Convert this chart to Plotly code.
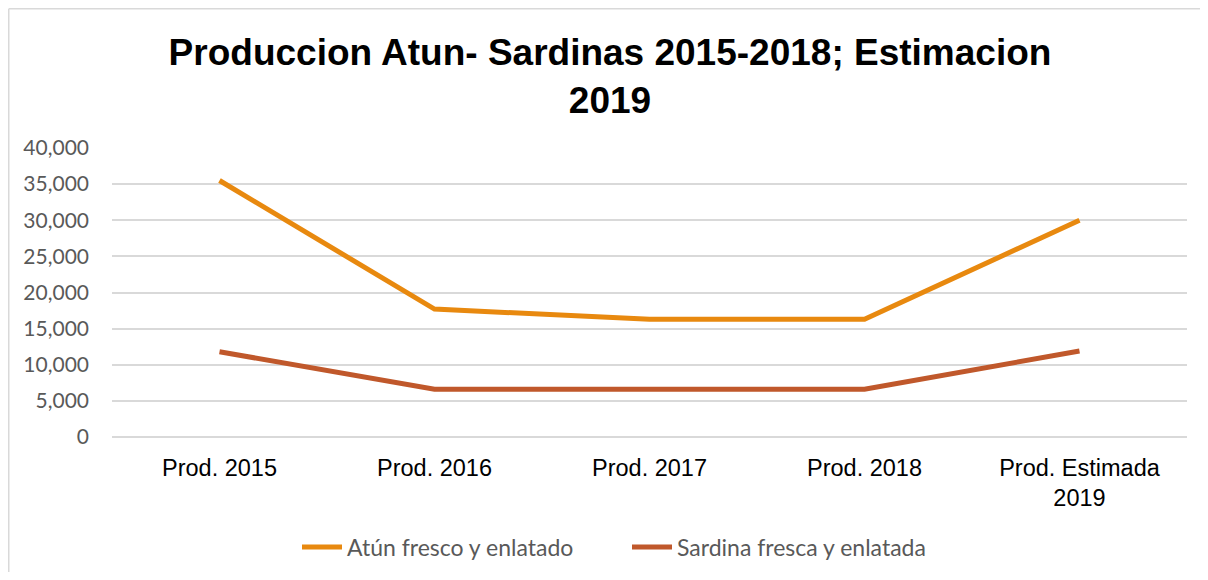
import plotly.graph_objects as go

categories = ["Prod. 2015", "Prod. 2016", "Prod. 2017", "Prod. 2018", "Prod. Estimada<br>2019"]
atun = [35500, 17700, 16300, 16300, 30000]
sardina = [11800, 6600, 6600, 6600, 11900]
y_ticks = [0, 5000, 10000, 15000, 20000, 25000, 30000, 35000, 40000]
y_tick_labels = ["0", "5,000", "10,000", "15,000", "20,000", "25,000", "30,000", "35,000", "40,000"]

W, H = 1192, 564
ML, MR, MT, MB = 104, 13, 140, 135
PW, PH = W - ML - MR, H - MT - MB

fig = go.Figure()
fig.add_trace(go.Scatter(x=categories, y=atun, mode="lines", name="Atún fresco y enlatado",
                         line=dict(color="#E8890F", width=5)))
fig.add_trace(go.Scatter(x=categories, y=sardina, mode="lines", name="Sardina fresca y enlatada",
                         line=dict(color="#C0582B", width=5)))

fig.update_layout(
    width=W, height=H,
    margin=dict(l=ML, r=MR, t=MT, b=MB, autoexpand=False),
    paper_bgcolor="white", plot_bgcolor="white",
    title=dict(text="<b>Produccion Atun- Sardinas 2015-2018; Estimacion<br>2019</b>",
               x=602 / W, xanchor="center",
               y=1 - 57 / H, yanchor="top", yref="container",
               font=dict(family="Liberation Sans, Arial", size=37, color="black")),
    xaxis=dict(type="category", range=[-0.5, 4.5], showgrid=False, showline=False,
               ticks="", ticklabelstandoff=14, automargin=False,
               tickfont=dict(family="Liberation Sans, Arial", size=23.5, color="black")),
    yaxis=dict(range=[0, 40000], tickvals=y_ticks, ticktext=y_tick_labels,
               showgrid=True, gridcolor="#D9D9D9", gridwidth=1.5,
               zeroline=True, zerolinecolor="#D9D9D9", zerolinewidth=1.5,
               showline=False, ticks="", ticklabelstandoff=22, automargin=False,
               tickfont=dict(family="Lato, Carlito, Calibri", size=21, color="#595959")),
    legend=dict(orientation="h", x=(305 - 16 - ML) / PW, xanchor="left",
                y=-(539 - MT - PH) / PH, yanchor="middle",
                font=dict(family="Lato, Carlito, Calibri", size=23, color="#595959"),
                itemwidth=40, tracegroupgap=0, entrywidth=275, entrywidthmode="pixels"),
    showlegend=True,
)

# chart-area border (left and top edges are visible in the frame)
fig.add_shape(type="line", xref="paper", yref="paper",
              x0=(0.75 - ML) / PW, x1=(0.75 - ML) / PW,
              y0=-(H + 10 - MT - PH) / PH, y1=1 + (MT - 0.75) / PH,
              line=dict(color="#D9D9D9", width=1.5), layer="below")
fig.add_shape(type="line", xref="paper", yref="paper",
              x0=(0.75 - ML) / PW, x1=(W + 10 - ML) / PW,
              y0=1 + (MT - 0.75) / PH, y1=1 + (MT - 0.75) / PH,
              line=dict(color="#D9D9D9", width=1.5), layer="below")

fig.write_html("out.html")
